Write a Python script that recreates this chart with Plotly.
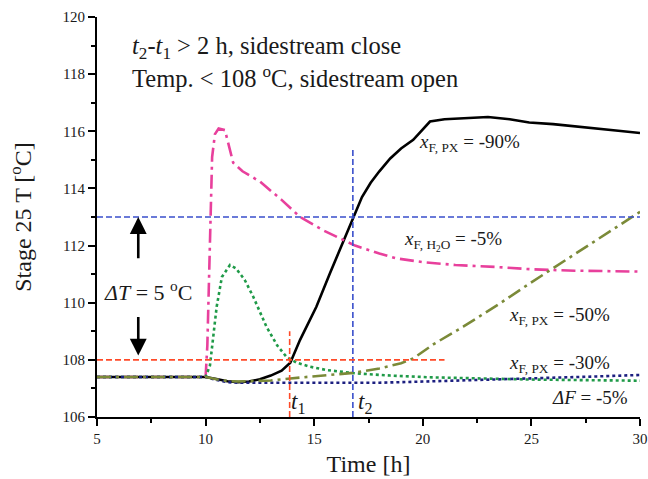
import plotly.graph_objects as go

# Stage 25 temperature response to feed disturbances
t_px90 = [5, 10, 10.5, 11, 11.5, 12, 12.5, 13, 13.5, 13.9, 14.35, 15.1, 15.73, 16.3, 16.8,
          17.2, 17.6, 18, 18.5, 19, 19.56, 20.33, 21, 22, 23, 24, 24.9, 26, 27, 28, 29, 30]
T_px90 = [107.4, 107.4, 107.33, 107.25, 107.22, 107.24, 107.32, 107.45, 107.62, 107.9, 108.7,
          109.86, 111.04, 112.05, 113.0, 113.7, 114.2, 114.6, 115.05, 115.4, 115.7, 116.34,
          116.42, 116.47, 116.5, 116.42, 116.31, 116.25, 116.18, 116.1, 116.02, 115.94]

t_h2o = [5, 10.0, 10.08, 10.2, 10.3, 10.43, 10.6, 10.89, 11.05, 11.27, 11.7, 12.5, 13.5, 14.35,
         15.4, 16.88, 18, 18.8, 20, 21.5, 23.4, 25, 27, 30]
T_h2o = [107.4, 107.4, 108.5, 112.6, 115.1, 115.9, 116.1, 116.04, 115.6, 114.9, 114.6, 114.24,
         113.6, 113.0, 112.54, 112.0, 111.72, 111.55, 111.42, 111.32, 111.25, 111.17, 111.12, 111.09]

t_px30 = [5, 10.0, 10.2, 10.35, 10.51, 10.75, 11.12, 11.4, 11.8, 12.2, 12.8, 13.3, 13.73, 14.2,
          14.8, 15.6, 16.88, 18.5, 20.3, 25, 30]
T_px30 = [107.4, 107.4, 107.8, 108.7, 109.86, 110.9, 111.32, 111.2, 110.8, 110.2, 109.16, 108.5,
          108.1, 107.9, 107.76, 107.64, 107.53, 107.45, 107.39, 107.31, 107.27]

t_feed = [5, 10, 10.5, 11, 11.5, 12, 14, 16, 17, 18, 20, 22, 25, 28, 30]
T_feed = [107.4, 107.4, 107.3, 107.22, 107.2, 107.2, 107.18, 107.18, 107.18, 107.2, 107.24,
          107.28, 107.35, 107.42, 107.47]

t_px50 = [5, 10, 10.5, 11, 11.5, 12, 13, 13.9, 15, 15.73, 16.88, 18, 19, 19.56, 20.5, 21.86,
          23.5, 24.93, 26.5, 28, 29, 30]
T_px50 = [107.4, 107.4, 107.32, 107.26, 107.24, 107.25, 107.28, 107.35, 107.42, 107.47, 107.55,
          107.7, 107.88, 108.05, 108.55, 109.16, 109.95, 110.68, 111.45, 112.2, 112.7, 113.18]

# control thresholds and switching times
T_open = 108
T_limit = 113
t1 = 13.87
t2 = 16.78
x_range = [5, 30]
y_range = [106, 120]

FONT = "Liberation Serif"
INK = "#1a1a1a"

fig = go.Figure()

series = [
    (t_px90, T_px90, "#000000", "solid", 2.6),
    (t_h2o, T_h2o, "#e8409c", "14px,5px,3px,5px", 2.6),
    (t_px30, T_px30, "#1f9a48", "dot", 2.6),
    (t_feed, T_feed, "#1c1f80", "dot", 2.6),
    (t_px50, T_px50, "#7b8a38", "14px,5px,3px,5px", 2.6),
]
for tx, ty, col, dash, w in series:
    fig.add_trace(go.Scatter(x=tx, y=ty, mode="lines",
                             line=dict(color=col, dash=dash, width=w),
                             showlegend=False, hoverinfo="skip"))

blue = "#3a4fcc"
red = "#ff4a28"
shapes = [
    dict(type="line", x0=x_range[0], x1=x_range[1], y0=T_limit, y1=T_limit,
         line=dict(color=blue, width=1.6, dash="6px,3px")),
    dict(type="line", x0=t2, x1=t2, y0=y_range[0], y1=115.45,
         line=dict(color=blue, width=1.6, dash="6px,3px")),
    dict(type="line", x0=x_range[0], x1=21.0, y0=T_open, y1=T_open,
         line=dict(color=red, width=1.6, dash="6px,3px")),
    dict(type="line", x0=t1, x1=t1, y0=y_range[0], y1=109.0,
         line=dict(color=red, width=1.6, dash="6px,3px")),
]
for s in shapes:
    fig.add_shape(xref="x", yref="y", layer="above", **s)

labels = [
    (6.52, 118.95, "<i>t</i><sub>2</sub>-<i>t</i><sub>1</sub> &gt; 2 h, sidestream close", 24.5),
    (6.52, 117.9, "Temp. &lt; 108 <sup>o</sup>C, sidestream open", 24.5),
    (19.73, 115.6, "<i>x</i><sub>F, PX</sub> = -90%", 19),
    (19.03, 112.15, "<i>x</i><sub>F, H<sub>2</sub>O</sub> = -5%", 19),
    (23.88, 109.52, "<i>x</i><sub>F, PX</sub> = -50%", 19),
    (23.88, 107.87, "<i>x</i><sub>F, PX</sub> = -30%", 19),
    (25.86, 106.7, "<i>ΔF</i> = -5%", 19),
    (5.22, 110.41, "<i>ΔT</i> = 5 <sup>o</sup>C", 22),
    (13.85, 106.48, "<i>t</i><sub>1</sub>", 23),
    (16.93, 106.48, "<i>t</i><sub>2</sub>", 23),
]
for x, y, txt, sz in labels:
    fig.add_annotation(x=x, y=y, xref="x", yref="y", text=txt, showarrow=False,
                       xanchor="left", yanchor="middle",
                       font=dict(family=FONT, size=sz, color=INK))

# arrows marking the temperature window
for tip, tail in [(T_limit, 111.5), (108.15, 109.55)]:
    fig.add_annotation(x=6.9, y=tip, ax=6.9, ay=tail, xref="x", yref="y",
                       axref="x", ayref="y", text="", showarrow=True,
                       arrowhead=2, arrowsize=1.3, arrowwidth=2.6, arrowcolor="#000000")

axis_common = dict(showline=True, linewidth=2, linecolor="#000000", mirror=False,
                   ticks="outside", ticklen=7, tickwidth=2, tickcolor="#000000",
                   showgrid=False, zeroline=False,
                   tickfont=dict(family=FONT, size=15, color=INK),
                   title_font=dict(family=FONT, size=24, color=INK))

fig.update_xaxes(range=x_range, dtick=5, tick0=5,
                 minor=dict(ticks="outside", ticklen=4, tickwidth=2, tickcolor="#000000", dtick=2.5),
                 title=dict(text="Time [h]", standoff=9), **axis_common)
fig.update_yaxes(range=y_range, dtick=2, tick0=106,
                 minor=dict(ticks="outside", ticklen=4, tickwidth=2, tickcolor="#000000", dtick=1),
                 title=dict(text="Stage 25 T [<sup>o</sup>C]", standoff=24), **axis_common)

fig.update_layout(width=648, height=479, margin=dict(l=97, r=8, t=17, b=62, autoexpand=False),
                  plot_bgcolor="white", paper_bgcolor="white")

fig.write_html("out.html")
